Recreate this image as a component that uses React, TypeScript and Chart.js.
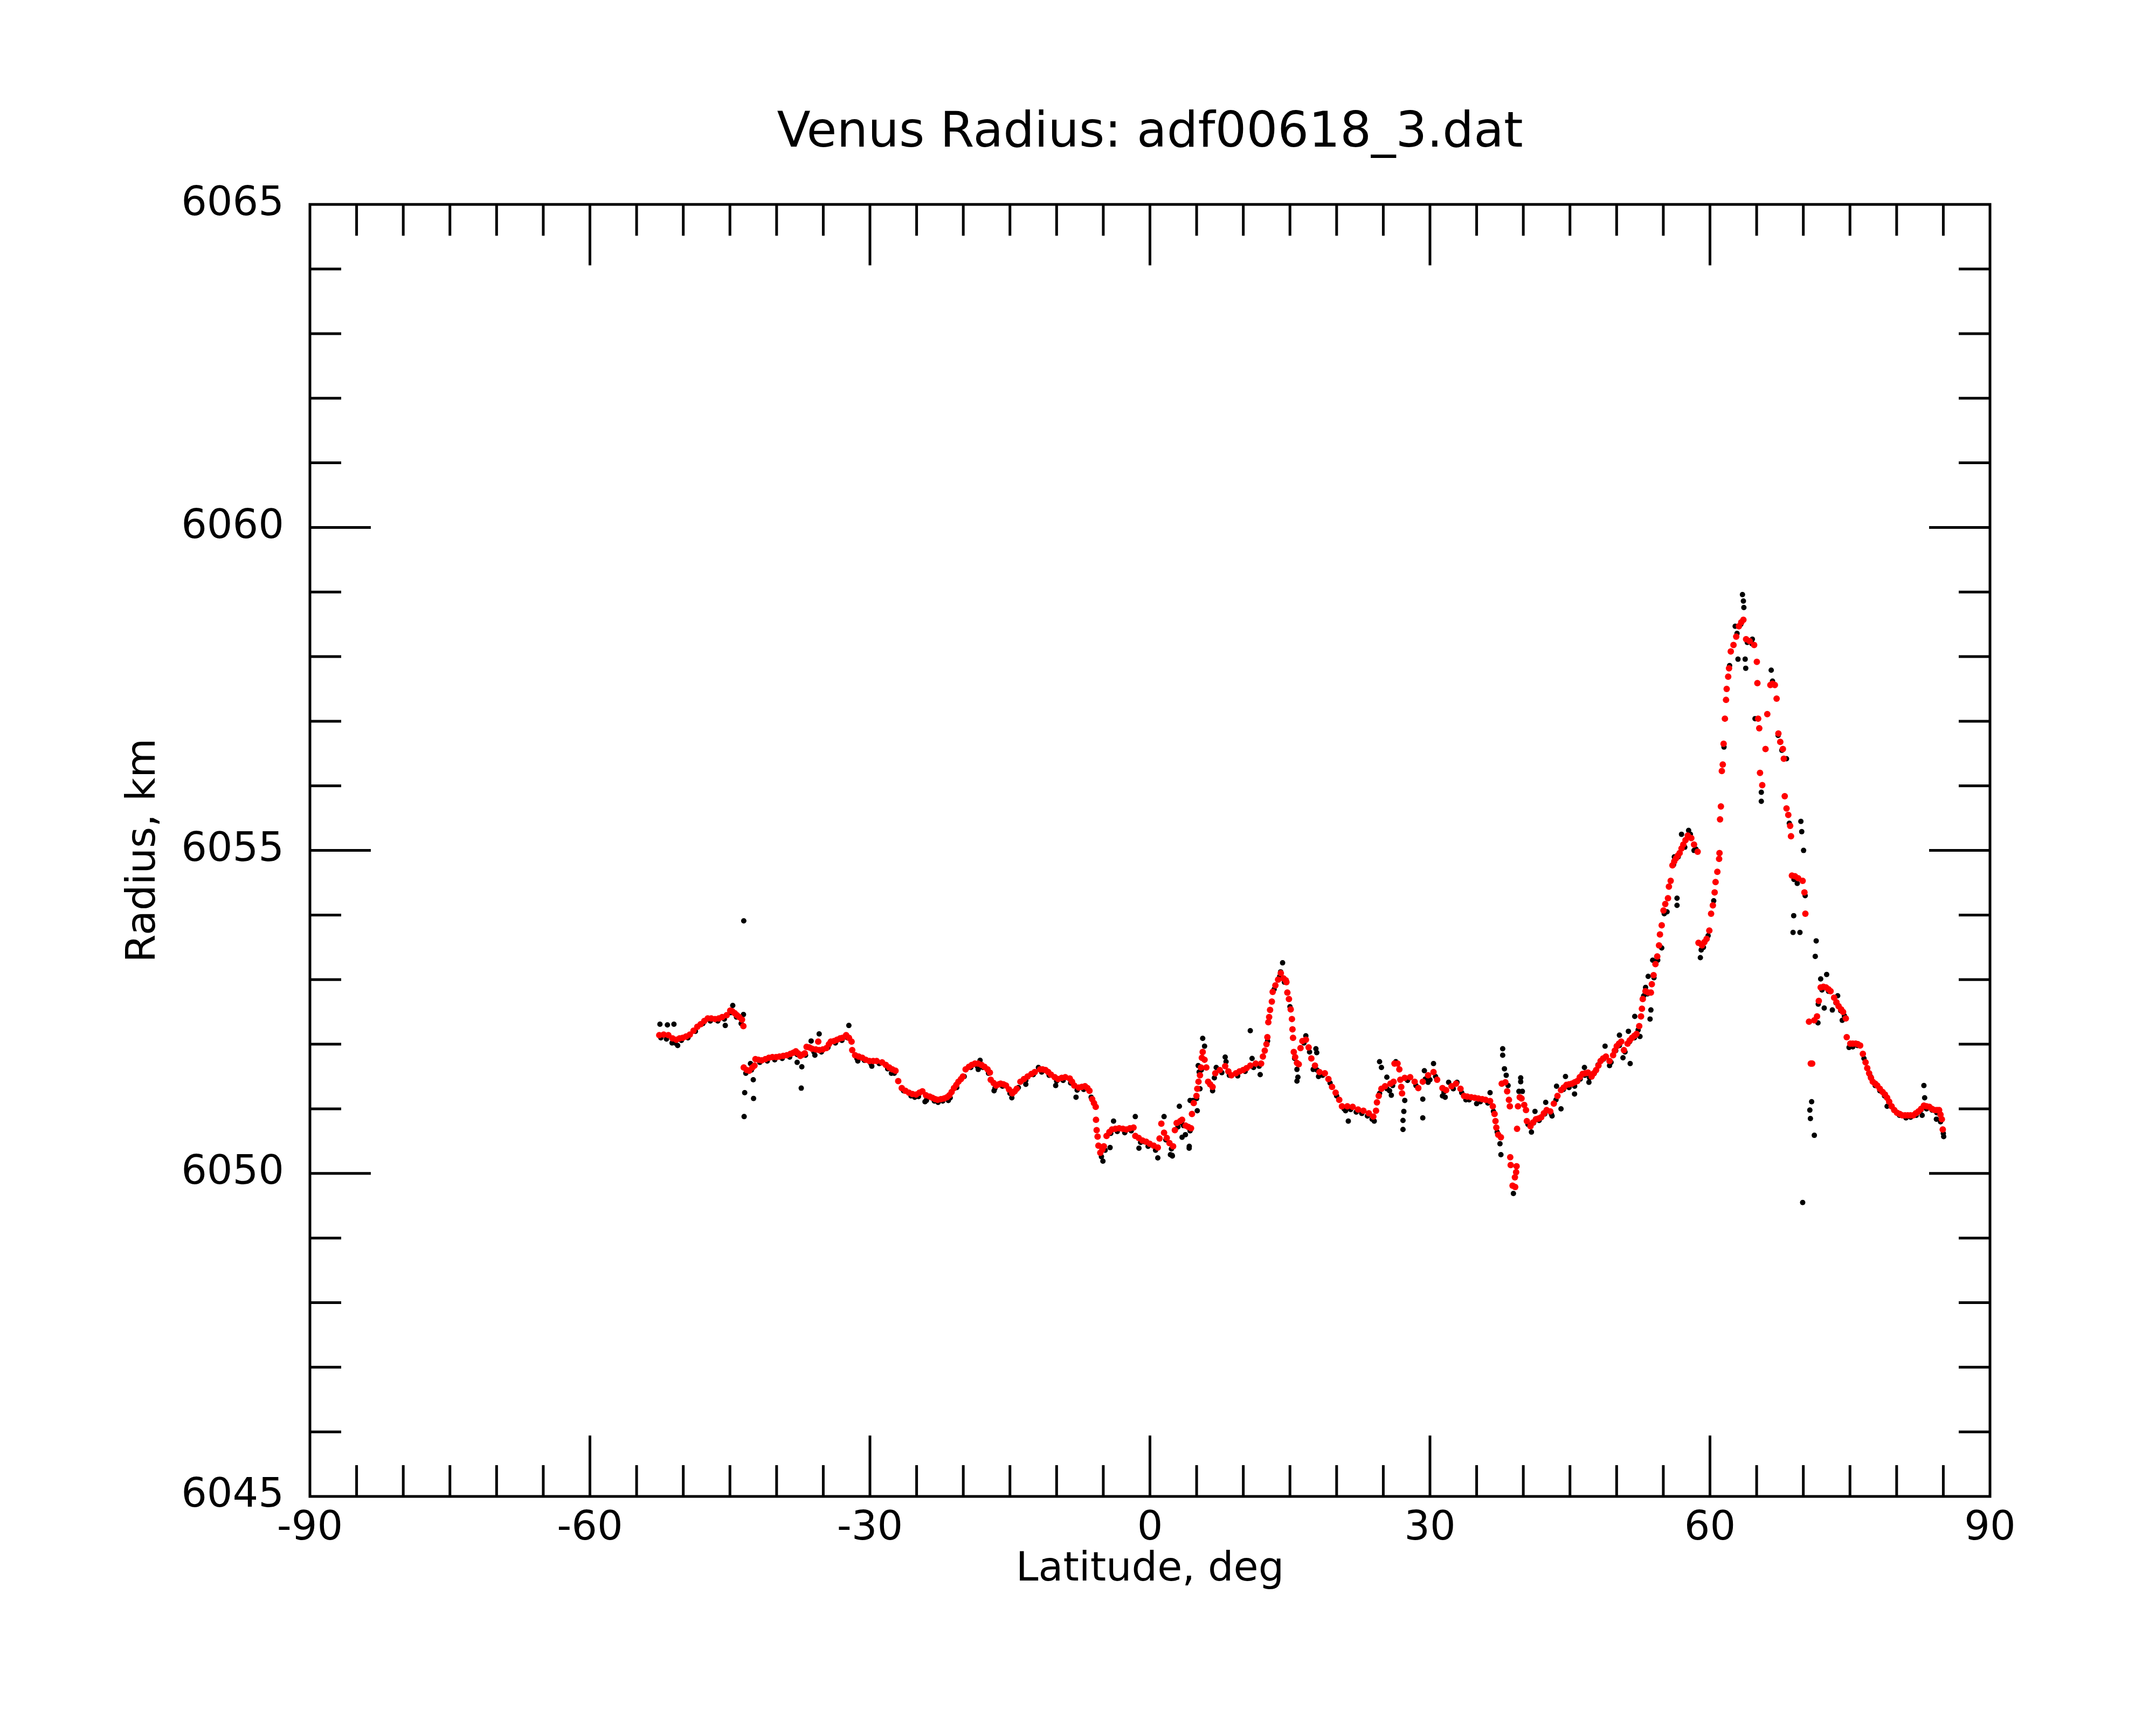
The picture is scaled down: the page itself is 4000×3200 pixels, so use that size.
import { useEffect, useRef } from "react";
import { Chart, registerables } from "chart.js";

Chart.register(...registerables);

// axis ranges and labelled ticks
const latRange = [-90, 90];
const radiusRange = [6045, 6065];
const latTickStep = 30;
const radiusTickStep = 5;

// smoothed radius (red), [latitude deg, radius km]
const smoothed: [number, number][] = [
  [-52.57, 6052.14], [-52.1, 6052.15], [-51.6, 6052.14], [-51.15, 6052.09], [-50.74, 6052.07],
  [-50.4, 6052.09], [-50.07, 6052.1], [-49.7, 6052.12], [-49.3, 6052.15], [-48.9, 6052.21],
  [-48.5, 6052.27], [-48.14, 6052.31], [-47.75, 6052.36], [-47.38, 6052.4], [-47.0, 6052.4],
  [-46.6, 6052.39], [-46.2, 6052.4], [-45.83, 6052.42], [-45.35, 6052.45], [-44.97, 6052.52],
  [-44.75, 6052.51], [-44.49, 6052.48], [-44.25, 6052.45], [-44.0, 6052.42], [-43.71, 6052.38],
  [-43.56, 6052.28],
  [-43.52, 6051.64], [-43.2, 6051.6], [-42.94, 6051.59], [-42.6, 6051.64], [-42.37, 6051.67],
  [-42.27, 6051.77], [-41.95, 6051.76], [-41.6, 6051.75], [-41.2, 6051.77], [-40.83, 6051.79],
  [-40.45, 6051.8], [-40.06, 6051.8], [-39.7, 6051.81], [-39.29, 6051.82], [-38.9, 6051.83],
  [-38.52, 6051.85], [-38.2, 6051.87], [-37.94, 6051.89], [-37.7, 6051.86], [-37.46, 6051.82],
  [-37.2, 6051.84], [-36.98, 6051.86], [-36.79, 6051.96], [-36.5, 6051.95], [-36.21, 6051.93],
  [-35.8, 6051.92], [-35.54, 6052.04], [-35.44, 6051.91], [-35.05, 6051.92], [-34.67, 6051.94],
  [-34.4, 6052.0], [-34.19, 6052.04], [-33.85, 6052.05], [-33.52, 6052.07], [-33.2, 6052.09],
  [-32.94, 6052.1], [-32.55, 6052.14], [-32.25, 6052.1], [-31.97, 6052.04], [-31.9, 6051.91],
  [-31.59, 6051.83], [-31.2, 6051.81], [-30.82, 6051.79], [-30.45, 6051.76], [-30.05, 6051.74],
  [-29.65, 6051.74], [-29.28, 6051.74], [-28.7, 6051.72], [-28.3, 6051.68], [-27.93, 6051.64],
  [-27.6, 6051.61], [-27.26, 6051.59], [-26.97, 6051.43], [-26.59, 6051.32], [-26.2, 6051.28],
  [-25.82, 6051.25], [-25.45, 6051.23], [-25.05, 6051.22], [-24.7, 6051.25], [-24.38, 6051.27],
  [-24.0, 6051.21], [-23.6, 6051.19], [-23.31, 6051.17], [-23.0, 6051.15], [-22.74, 6051.14],
  [-22.4, 6051.15], [-22.06, 6051.16], [-21.75, 6051.18], [-21.49, 6051.21], [-21.25, 6051.26],
  [-21.0, 6051.32], [-20.75, 6051.37], [-20.52, 6051.42], [-20.25, 6051.46], [-20.04, 6051.5],
  [-19.75, 6051.61], [-19.4, 6051.65], [-19.08, 6051.68], [-18.75, 6051.7], [-18.41, 6051.7],
  [-18.05, 6051.68], [-17.73, 6051.65], [-17.4, 6051.61], [-17.15, 6051.56], [-17.06, 6051.45],
  [-16.75, 6051.4], [-16.48, 6051.36], [-16.2, 6051.38], [-16.0, 6051.39], [-15.7, 6051.38],
  [-15.42, 6051.36], [-15.1, 6051.3], [-14.75, 6051.24], [-14.5, 6051.27], [-14.27, 6051.31],
  [-13.88, 6051.42], [-13.5, 6051.46], [-13.11, 6051.5], [-12.7, 6051.54], [-12.34, 6051.57],
  [-11.77, 6051.61], [-11.5, 6051.61], [-11.19, 6051.6], [-10.9, 6051.57], [-10.61, 6051.53],
  [-10.2, 6051.49], [-9.84, 6051.46], [-9.45, 6051.48], [-9.07, 6051.49], [-8.59, 6051.47],
  [-8.35, 6051.42], [-8.11, 6051.36], [-7.63, 6051.33], [-7.3, 6051.34], [-6.96, 6051.35],
  [-6.7, 6051.32], [-6.48, 6051.28], [-6.19, 6051.15], [-6.0, 6051.09], [-5.81, 6051.03],
  [-5.78, 6050.83], [-5.71, 6050.67], [-5.61, 6050.57], [-5.52, 6050.43], [-5.32, 6050.32],
  [-5.1, 6050.37], [-4.94, 6050.42], [-4.65, 6050.58], [-4.35, 6050.64], [-4.07, 6050.68],
  [-3.7, 6050.69], [-3.3, 6050.7], [-2.9, 6050.69], [-2.53, 6050.68], [-2.15, 6050.7],
  [-1.76, 6050.71], [-1.57, 6050.58], [-1.2, 6050.55], [-0.8, 6050.51], [-0.4, 6050.49],
  [-0.03, 6050.46], [0.4, 6050.43], [0.84, 6050.4], [1.03, 6050.54], [1.22, 6050.77],
  [1.51, 6050.63], [1.8, 6050.55], [2.09, 6050.47], [2.48, 6050.42], [2.67, 6050.67],
  [2.86, 6050.78], [3.24, 6050.81], [3.44, 6050.83], [3.82, 6050.74], [4.1, 6050.72],
  [4.4, 6050.7], [4.5, 6050.92], [4.69, 6051.09], [4.98, 6051.2], [5.07, 6051.31],
  [5.2, 6051.42], [5.36, 6051.52], [5.46, 6051.64], [5.56, 6051.79], [5.65, 6051.88],
  [5.85, 6051.76], [6.04, 6051.64], [6.23, 6051.42], [6.45, 6051.38], [6.71, 6051.34],
  [7.0, 6051.55], [7.48, 6051.6], [8.06, 6051.66], [8.4, 6051.58], [8.73, 6051.52],
  [9.21, 6051.55], [9.6, 6051.58], [9.98, 6051.6], [10.35, 6051.63], [10.75, 6051.67],
  [11.33, 6051.7], [11.91, 6051.7], [12.1, 6051.81], [12.3, 6051.9], [12.48, 6052.0],
  [12.58, 6052.11], [12.68, 6052.34], [12.77, 6052.42], [12.87, 6052.53], [13.06, 6052.66],
  [13.15, 6052.81], [13.44, 6052.91], [13.73, 6053.0], [14.02, 6053.1], [14.31, 6053.02],
  [14.55, 6052.99], [14.62, 6052.96], [14.72, 6052.8], [14.89, 6052.7], [15.08, 6052.54],
  [15.21, 6052.39], [15.27, 6052.23], [15.33, 6052.1], [15.41, 6051.88], [15.56, 6051.8],
  [15.75, 6051.71], [15.94, 6051.69], [16.13, 6051.94], [16.33, 6052.05], [16.71, 6052.07],
  [17.0, 6051.95], [17.29, 6051.78], [17.68, 6051.67], [18.16, 6051.57], [18.74, 6051.55],
  [19.12, 6051.46], [19.51, 6051.34], [19.89, 6051.25], [20.28, 6051.14], [20.57, 6051.04],
  [21.15, 6051.04], [21.72, 6051.03], [22.3, 6050.99], [22.87, 6050.97], [23.45, 6050.93],
  [23.93, 6050.88], [24.22, 6050.97], [24.32, 6051.1], [24.51, 6051.2], [24.8, 6051.31],
  [25.19, 6051.35], [25.76, 6051.39], [26.1, 6051.42], [26.2, 6051.7], [26.53, 6051.7],
  [26.72, 6051.61], [26.82, 6051.45], [26.92, 6051.34], [27.01, 6051.24], [27.3, 6051.48],
  [27.88, 6051.49], [28.36, 6051.42], [28.75, 6051.32], [29.23, 6051.42], [29.8, 6051.52],
  [30.38, 6051.57], [30.77, 6051.45], [31.34, 6051.32], [31.73, 6051.29], [32.31, 6051.35],
  [32.79, 6051.39], [33.27, 6051.31], [33.65, 6051.2], [34.0, 6051.19], [34.42, 6051.18],
  [34.8, 6051.17], [35.19, 6051.16], [35.6, 6051.15], [35.96, 6051.14], [36.44, 6051.12],
  [36.73, 6051.04], [36.92, 6050.92], [37.02, 6050.81], [37.11, 6050.71], [37.31, 6050.6],
  [37.6, 6050.56], [37.69, 6051.39], [38.08, 6051.41], [38.27, 6051.27], [38.46, 6051.14],
  [38.56, 6051.04], [38.6, 6050.25], [38.65, 6050.13], [38.85, 6049.81], [39.1, 6049.94],
  [39.13, 6049.79], [39.23, 6050.02], [39.28, 6050.11], [39.33, 6050.69], [39.43, 6051.04],
  [39.62, 6051.18], [39.81, 6051.16], [40.1, 6051.06], [40.29, 6050.98], [40.38, 6050.81],
  [40.77, 6050.73], [41.05, 6050.79], [41.35, 6050.84], [41.62, 6050.85], [41.92, 6050.87],
  [42.2, 6050.93], [42.5, 6050.98], [42.89, 6050.96], [43.27, 6051.08], [43.66, 6051.2],
  [44.04, 6051.29], [44.33, 6051.33], [44.62, 6051.37], [44.9, 6051.38], [45.2, 6051.39],
  [45.5, 6051.41], [45.78, 6051.43], [46.05, 6051.49], [46.35, 6051.54], [46.63, 6051.55],
  [46.93, 6051.56], [47.32, 6051.5], [47.55, 6051.55], [47.8, 6051.6], [48.05, 6051.67],
  [48.28, 6051.74], [48.55, 6051.78], [48.85, 6051.81], [49.24, 6051.74], [49.62, 6051.83],
  [49.8, 6051.9], [50.01, 6051.97], [50.25, 6052.01], [50.49, 6052.04], [50.78, 6051.91],
  [51.17, 6052.01], [51.4, 6052.06], [51.65, 6052.1], [51.9, 6052.13], [52.13, 6052.16],
  [52.42, 6052.28], [52.61, 6052.43], [52.71, 6052.55], [52.8, 6052.7], [53.09, 6052.82],
  [53.4, 6052.8], [53.67, 6052.8], [53.77, 6052.93], [53.96, 6053.07], [54.16, 6053.24],
  [54.35, 6053.36], [54.54, 6053.53], [54.64, 6053.7], [54.83, 6053.84], [55.02, 6054.07],
  [55.21, 6054.17], [55.5, 6054.26], [55.6, 6054.44], [55.79, 6054.53], [55.98, 6054.77],
  [56.17, 6054.83], [56.37, 6054.88], [56.55, 6054.92], [56.75, 6054.96], [56.95, 6055.03],
  [57.14, 6055.09], [57.38, 6055.16], [57.62, 6055.23], [58.0, 6055.19], [58.29, 6055.09],
  [58.68, 6054.98], [58.77, 6053.57], [59.15, 6053.53], [59.4, 6053.58], [59.64, 6053.63],
  [59.93, 6053.76], [60.12, 6054.02], [60.31, 6054.15], [60.5, 6054.35], [60.6, 6054.51],
  [60.79, 6054.67], [60.98, 6054.87], [61.02, 6054.96], [61.08, 6055.48], [61.17, 6055.68],
  [61.27, 6056.23], [61.37, 6056.33], [61.46, 6056.65], [61.6, 6057.04], [61.72, 6057.33],
  [61.79, 6057.5], [61.95, 6057.69], [62.04, 6057.82], [62.23, 6058.08], [62.52, 6058.18],
  [62.81, 6058.31], [63.1, 6058.47], [63.35, 6058.53], [63.58, 6058.57], [63.87, 6058.27],
  [64.25, 6058.24], [64.73, 6058.18], [65.02, 6057.92], [65.08, 6057.59], [65.16, 6057.04],
  [65.28, 6056.89], [65.36, 6056.2], [65.6, 6056.01], [65.95, 6056.57], [66.14, 6057.11],
  [66.47, 6057.56], [66.7, 6057.58], [66.95, 6057.56], [67.14, 6057.35], [67.33, 6056.81],
  [67.53, 6056.68], [67.81, 6056.57], [67.91, 6056.42], [68.01, 6055.84], [68.2, 6055.65],
  [68.39, 6055.55], [68.59, 6055.38], [68.68, 6055.22], [68.78, 6054.61], [69.1, 6054.6],
  [69.45, 6054.57], [69.93, 6054.53], [70.12, 6054.35], [70.22, 6054.02], [70.61, 6052.35],
  [70.8, 6051.7], [70.95, 6051.7], [71.18, 6052.37], [71.47, 6052.43], [71.66, 6052.67],
  [71.86, 6052.88], [72.15, 6052.89], [72.43, 6052.88], [72.7, 6052.85], [72.92, 6052.82],
  [73.3, 6052.72], [73.55, 6052.65], [73.78, 6052.59], [74.05, 6052.54], [74.26, 6052.5],
  [74.55, 6052.4], [74.65, 6052.11], [75.03, 6052.01], [75.3, 6052.01], [75.61, 6052.01],
  [75.85, 6052.0], [76.09, 6051.98], [76.38, 6051.85], [76.67, 6051.72], [76.85, 6051.63],
  [77.05, 6051.55], [77.25, 6051.48], [77.44, 6051.42], [77.7, 6051.39], [77.92, 6051.36],
  [78.2, 6051.31], [78.5, 6051.26], [78.75, 6051.22], [78.98, 6051.17], [79.2, 6051.11],
  [79.46, 6051.04], [79.75, 6050.98], [80.04, 6050.94], [80.33, 6050.92], [80.61, 6050.9],
  [80.9, 6050.9], [81.19, 6050.9], [81.48, 6050.9], [81.77, 6050.9], [82.05, 6050.93],
  [82.34, 6050.96], [82.62, 6051.0], [82.92, 6051.05], [83.2, 6051.04], [83.5, 6051.03],
  [83.78, 6051.0], [84.07, 6050.98], [84.32, 6050.98], [84.55, 6050.98], [84.7, 6050.91],
  [84.84, 6050.84], [84.94, 6050.68],
];

// raw radius (black), main track
const rawTrack: [number, number][] = [
  [-52.4, 6052.1], [-51.8, 6052.08], [-50.9, 6052.02], [-50.2, 6052.06], [-49.5, 6052.1],
  [-48.7, 6052.2], [-47.9, 6052.32], [-47.1, 6052.36], [-46.3, 6052.36], [-45.6, 6052.39],
  [-44.9, 6052.49], [-44.3, 6052.42], [-43.8, 6052.32], [-43.3, 6051.55], [-42.7, 6051.6],
  [-41.8, 6051.72], [-41.0, 6051.74], [-40.2, 6051.76], [-39.4, 6051.78], [-38.6, 6051.8],
  [-37.8, 6051.84], [-36.9, 6051.83], [-36.0, 6051.88], [-35.2, 6051.88], [-34.5, 6051.95],
  [-33.7, 6052.02], [-33.0, 6052.06], [-32.4, 6052.1], [-31.4, 6051.78], [-30.6, 6051.75],
  [-29.9, 6051.7], [-29.0, 6051.7], [-28.1, 6051.62], [-27.4, 6051.55], [-26.4, 6051.28],
  [-25.6, 6051.2], [-24.8, 6051.19], [-23.9, 6051.16], [-23.1, 6051.12], [-22.2, 6051.12],
  [-21.4, 6051.17], [-20.7, 6051.33], [-19.9, 6051.5], [-19.2, 6051.64], [-18.5, 6051.66],
  [-17.9, 6051.64], [-17.3, 6051.55], [-16.6, 6051.32], [-15.8, 6051.35], [-15.0, 6051.24],
  [-14.1, 6051.33], [-13.3, 6051.44], [-12.5, 6051.53], [-11.6, 6051.57], [-10.8, 6051.52],
  [-10.0, 6051.43], [-9.3, 6051.44], [-8.5, 6051.4], [-7.8, 6051.29], [-7.1, 6051.3],
  [-6.3, 6051.18], [-4.8, 6050.36], [-4.2, 6050.62], [-3.5, 6050.65], [-2.7, 6050.63],
  [-2.0, 6050.66], [-1.0, 6050.48], [-0.2, 6050.42], [0.6, 6050.36], [1.7, 6050.52],
  [2.3, 6050.38], [3.0, 6050.72], [3.6, 6050.74], [4.3, 6050.66], [5.0, 6051.16],
  [5.5, 6051.6], [6.9, 6051.48], [7.7, 6051.56], [8.5, 6051.52], [9.4, 6051.51],
  [10.2, 6051.58], [11.1, 6051.64], [11.7, 6051.66], [12.6, 6052.05], [13.3, 6052.85],
  [13.9, 6053.05], [14.4, 6052.96], [15.0, 6052.58], [15.5, 6051.78], [16.5, 6052.02],
  [17.1, 6051.88], [17.9, 6051.6], [18.5, 6051.52], [19.3, 6051.4], [20.0, 6051.2],
  [20.8, 6051.0], [21.5, 6050.99], [22.1, 6050.95], [22.7, 6050.93], [23.3, 6050.89],
  [23.8, 6050.84], [24.6, 6051.24], [25.4, 6051.31], [26.0, 6051.36], [27.6, 6051.44],
  [28.5, 6051.36], [29.5, 6051.46], [30.6, 6051.5], [31.5, 6051.26], [32.5, 6051.31],
  [33.4, 6051.25], [34.2, 6051.14], [35.4, 6051.11], [36.2, 6051.09], [36.8, 6050.96],
  [37.2, 6050.64], [40.5, 6050.76], [41.1, 6050.78], [41.7, 6050.82], [42.3, 6050.92],
  [43.0, 6050.92], [43.5, 6051.14], [44.3, 6051.3], [44.9, 6051.33], [45.5, 6051.35],
  [46.1, 6051.46], [46.6, 6051.52], [47.1, 6051.48], [47.6, 6051.55], [48.0, 6051.68],
  [48.6, 6051.77], [49.4, 6051.72], [49.9, 6051.9], [50.3, 6051.98], [50.9, 6051.88],
  [51.4, 6052.04], [51.9, 6052.1], [52.3, 6052.22], [52.9, 6052.75], [53.3, 6052.78],
  [54.0, 6053.03], [54.4, 6053.3], [55.1, 6054.02], [56.1, 6054.78], [56.6, 6054.9],
  [57.3, 6055.05], [57.9, 6055.25], [58.5, 6055.02], [59.3, 6053.5], [59.8, 6053.68],
  [60.4, 6054.22], [61.5, 6056.6], [62.1, 6057.86], [62.9, 6058.36], [63.3, 6058.5],
  [64.0, 6058.22], [64.5, 6058.2], [66.7, 6057.62], [67.3, 6056.78], [67.7, 6056.55],
  [68.5, 6055.42], [69.0, 6054.55], [70.2, 6054.3], [71.6, 6052.62], [72.0, 6052.84],
  [72.7, 6052.82], [73.5, 6052.64], [74.0, 6052.52], [74.4, 6052.44], [75.3, 6051.96],
  [75.8, 6051.98], [76.5, 6051.78], [77.2, 6051.5], [77.7, 6051.36], [78.2, 6051.28],
  [78.7, 6051.2], [79.2, 6051.1], [79.7, 6050.98], [80.3, 6050.9], [81.0, 6050.86],
  [81.5, 6050.87], [82.1, 6050.9], [82.6, 6050.98], [83.2, 6051.0], [83.8, 6050.98],
  [84.3, 6050.94], [84.7, 6050.8], [85.0, 6050.62],
];

// raw radius (black), scattered points off the track
const rawScatter: [number, number][] = [
  [-52.5, 6052.31], [-51.7, 6052.3], [-51.0, 6052.31], [-51.2, 6052.02], [-50.6, 6051.98],
  [-45.5, 6052.29], [-44.7, 6052.6], [-43.55, 6052.46], [-43.52, 6053.91],
  [-43.42, 6051.25], [-42.47, 6051.16], [-43.48, 6050.88], [-42.5, 6051.45], [-42.8, 6051.7],
  [-37.36, 6051.32], [-37.3, 6051.65], [-37.8, 6051.72], [-35.44, 6052.16], [-35.9, 6051.83],
  [-36.3, 6052.05], [-32.26, 6052.29], [-31.3, 6051.74], [-29.8, 6051.66], [-27.7, 6051.55],
  [-25.2, 6051.18], [-24.1, 6051.11],
  [-23.95, 6051.13], [-22.7, 6051.1], [-21.6, 6051.13], [-18.2, 6051.75], [-18.4, 6051.61],
  [-16.7, 6051.28], [-14.8, 6051.17], [-13.3, 6051.38], [-11.95, 6051.64], [-10.1, 6051.36],
  [-7.92, 6051.18], [-5.04, 6050.19], [-5.2, 6050.26], [-4.27, 6050.4], [-3.9, 6050.81],
  [-1.57, 6050.88], [-1.18, 6050.39], [-0.6, 6050.49], [0.84, 6050.24], [1.51, 6050.88],
  [2.19, 6050.29], [2.4, 6050.27], [3.15, 6051.04], [3.4, 6050.78], [3.8, 6050.6],
  [4.3, 6051.13], [4.2, 6050.39],
  [2.38, 6050.28], [3.44, 6050.56], [4.21, 6050.42], [4.6, 6051.13], [5.07, 6050.97],
  [5.36, 6051.31], [5.65, 6052.09], [5.85, 6051.97], [5.17, 6051.67], [5.27, 6051.57],
  [6.71, 6051.28], [7.1, 6051.64], [8.06, 6051.8], [8.15, 6051.73], [10.75, 6052.21],
  [10.94, 6051.78], [11.81, 6051.53], [14.21, 6053.26], [14.0, 6053.12], [15.75, 6051.61],
  [15.85, 6051.49], [15.75, 6051.43], [16.7, 6052.13], [17.78, 6051.93], [17.87, 6051.87],
  [17.49, 6051.61], [18.06, 6051.5], [20.96, 6050.97], [21.25, 6050.81], [22.7, 6050.93],
  [24.03, 6050.81], [24.6, 6051.73], [24.8, 6051.64], [25.38, 6051.49], [25.67, 6051.28],
  [25.86, 6051.21], [26.34, 6051.73], [27.3, 6051.13], [27.2, 6050.96], [27.11, 6050.82],
  [27.11, 6050.68], [29.23, 6051.15], [29.23, 6050.86], [29.4, 6051.59], [30.38, 6051.7],
  [30.0, 6051.45], [31.34, 6051.2],
  [29.8, 6051.41], [31.63, 6051.18], [32.0, 6051.41], [32.9, 6051.41], [33.85, 6051.14],
  [35.0, 6051.08], [36.44, 6051.25], [37.5, 6050.46], [37.6, 6050.29], [37.79, 6051.93],
  [37.79, 6051.83], [37.98, 6051.62], [38.17, 6051.52], [38.37, 6051.36], [38.94, 6049.69],
  [39.72, 6051.48], [39.72, 6051.42], [39.53, 6051.27], [39.9, 6051.27], [40.87, 6050.64],
  [41.25, 6050.96], [42.4, 6051.1], [43.08, 6050.89], [43.56, 6051.35], [44.04, 6051.0],
  [44.52, 6051.5], [45.49, 6051.23], [46.55, 6051.64], [47.03, 6051.41], [48.76, 6051.97],
  [49.24, 6051.67], [50.3, 6052.14], [50.68, 6051.79], [51.45, 6051.7], [51.26, 6052.2],
  [51.94, 6052.43], [52.5, 6052.12], [53.67, 6052.53], [53.58, 6052.39], [53.38, 6053.05],
  [53.1, 6052.88], [53.86, 6053.3], [54.83, 6053.49], [55.4, 6054.05], [56.47, 6054.26],
  [56.47, 6054.15], [56.18, 6054.9], [56.95, 6055.25], [57.71, 6055.31], [58.29, 6055.0],
  [58.97, 6053.34], [59.06, 6053.46],
  [63.48, 6058.96], [63.58, 6058.86], [63.63, 6058.76], [62.7, 6058.47], [63.0, 6057.96],
  [63.77, 6057.96], [63.83, 6057.82], [64.54, 6058.27], [66.56, 6057.79], [64.83, 6057.04],
  [65.5, 6055.9], [65.5, 6055.76], [68.2, 6056.42], [69.74, 6055.45], [69.83, 6055.29],
  [70.03, 6055.0], [68.97, 6053.99], [68.9, 6053.73], [69.64, 6053.73], [69.35, 6054.49],
  [71.38, 6053.6], [71.28, 6053.36], [71.86, 6053.01], [72.5, 6053.08], [72.24, 6052.56],
  [73.11, 6052.53], [71.57, 6052.33], [73.68, 6052.75], [74.17, 6052.37], [70.89, 6051.11],
  [70.7, 6050.98], [70.76, 6050.85], [71.18, 6050.59], [69.93, 6049.55], [74.9, 6051.95],
  [78.98, 6051.04], [82.92, 6051.36], [83.0, 6051.17], [82.73, 6050.9], [84.26, 6050.84],
  [85.04, 6050.57],
];

const FONT = "'DejaVu Sans', sans-serif";
const MAJOR_TICK = 113;
const MINOR_TICK = 58;

// closed frame with inward ticks on all four sides
const frameTicks = {
  id: "frameTicks",
  afterDraw(chart: Chart) {
    const { ctx, chartArea: a } = chart;
    const xs = chart.scales.x;
    const ys = chart.scales.y;
    ctx.save();
    ctx.strokeStyle = "#000";
    ctx.lineWidth = 5;
    ctx.beginPath();
    for (let v = xs.min + 5; v < xs.max; v += 5) {
      const px = xs.getPixelForValue(v);
      const len = v % latTickStep === 0 ? MAJOR_TICK : MINOR_TICK;
      ctx.moveTo(px, a.bottom);
      ctx.lineTo(px, a.bottom - len);
      ctx.moveTo(px, a.top);
      ctx.lineTo(px, a.top + len);
    }
    for (let v = ys.min + 1; v < ys.max; v += 1) {
      const py = ys.getPixelForValue(v);
      const len = v % radiusTickStep === 0 ? MAJOR_TICK : MINOR_TICK;
      ctx.moveTo(a.left, py);
      ctx.lineTo(a.left + len, py);
      ctx.moveTo(a.right, py);
      ctx.lineTo(a.right - len, py);
    }
    ctx.stroke();
    ctx.strokeRect(a.left, a.top, a.right - a.left, a.bottom - a.top);
    ctx.restore();
  },
};

export default function App() {
  const canvasRef = useRef<HTMLCanvasElement>(null);
  const chartRef = useRef<Chart | null>(null);

  useEffect(() => {
    if (!canvasRef.current) return;
    if (chartRef.current) chartRef.current.destroy();

    const toXY = (p: [number, number]) => ({ x: p[0], y: p[1] });

    chartRef.current = new Chart(canvasRef.current, {
      type: "scatter",
      data: {
        datasets: [
          {
            label: "smoothed",
            data: smoothed.map(toXY),
            backgroundColor: "#ff0000",
            pointRadius: 6,
            pointBorderWidth: 0,
            order: 0,
          },
          {
            label: "raw",
            data: [...rawTrack, ...rawScatter].map(toXY),
            backgroundColor: "#000000",
            pointRadius: 5,
            pointBorderWidth: 0,
            order: 1,
          },
        ],
      },
      options: {
        responsive: false,
        animation: false,
        devicePixelRatio: 1,
        layout: { padding: { top: 0, right: 308, bottom: 0, left: 0 } },
        plugins: {
          legend: { display: false },
          tooltip: { enabled: false },
          title: {
            display: true,
            text: "Venus Radius: adf00618_3.dat",
            color: "#000",
            fullSize: false,
            font: { family: FONT, size: 91, weight: "normal" },
            padding: { top: 194, bottom: 76 },
          },
        },
        scales: {
          x: {
            type: "linear",
            min: latRange[0],
            max: latRange[1],
            grid: { display: false },
            border: { display: false },
            ticks: {
              stepSize: latTickStep,
              padding: 8,
              color: "#000",
              font: { family: FONT, size: 75 },
              maxRotation: 0,
              callback: (v) => String(v),
            },
            title: {
              display: true,
              text: "Latitude, deg",
              color: "#000",
              font: { family: FONT, size: 75 },
              padding: { top: 0, bottom: 242 },
            },
            afterFit: (scale) => {
              scale.height = 424;
            },
          },
          y: {
            type: "linear",
            min: radiusRange[0],
            max: radiusRange[1],
            grid: { display: false },
            border: { display: false },
            ticks: {
              stepSize: radiusTickStep,
              padding: 40,
              color: "#000",
              font: { family: FONT, size: 75 },
              callback: (v) => String(v),
            },
            title: {
              display: true,
              text: "Radius, km",
              color: "#000",
              font: { family: FONT, size: 75 },
              padding: { top: 223, bottom: 0 },
            },
            afterFit: (scale) => {
              scale.width = 575;
            },
          },
        },
      },
      plugins: [frameTicks],
    });

    return () => {
      if (chartRef.current) {
        chartRef.current.destroy();
        chartRef.current = null;
      }
    };
  }, []);

  return (
    <div
      style={{
        position: "absolute",
        left: 0,
        top: 0,
        width: 4000,
        height: 3200,
        background: "#fff",
      }}
    >
      <canvas
        ref={canvasRef}
        width={4000}
        height={3200}
        style={{ display: "block", width: 4000, height: 3200 }}
      />
    </div>
  );
}
